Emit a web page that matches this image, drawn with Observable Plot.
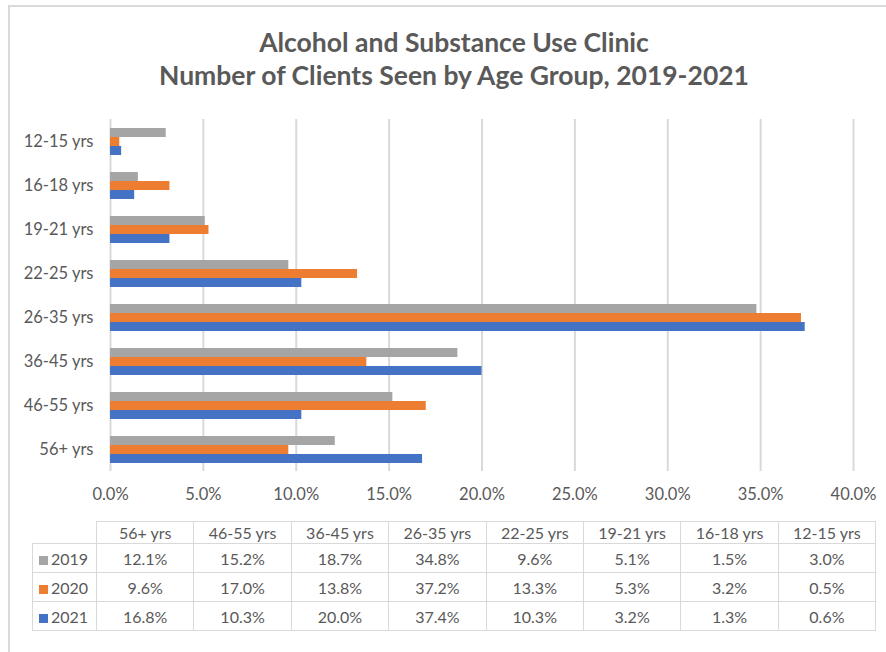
<!DOCTYPE html>
<html>
<head>
<meta charset="utf-8">
<script src="https://cdn.jsdelivr.net/npm/d3@7"></script>
<script src="https://cdn.jsdelivr.net/npm/@observablehq/plot@0.6"></script>
<style>
  html, body { margin: 0; padding: 0; background: #fff; }
  #wrap { position: relative; width: 886px; height: 652px; overflow: hidden; font-family: Lato, "Noto Sans", sans-serif; color: #595959; }
  #frame { position: absolute; left: 8px; top: 5px; width: 900px; height: 700px; border-top: 2px solid #d9d9d9; border-left: 2px solid #d9d9d9; }
  #title { position: absolute; left: 11px; top: 26px; width: 886px; text-align: center; font-weight: bold; font-size: 26.5px; line-height: 33px; color: #595959; }
  #chart { position: absolute; left: 0; top: 110px; }
  #tbl { position: absolute; left: 32px; top: 521px; border-collapse: collapse; table-layout: fixed; width: 843px; font-size: 16px; color: #595959; }
  #tbl td { border: 1.5px solid #d9d9d9; text-align: center; padding: 0; height: 28px; overflow: hidden; white-space: nowrap; }
  #tbl tr.head td { height: 21px; }
  #tbl td.key { text-align: left; padding-left: 6px; }
  #tbl td.blank { border-top: none; border-left: none; }
  .sw { display: inline-block; width: 9px; height: 9px; margin-right: 3px; vertical-align: 0px; }
</style>
</head>
<body>
<div id="wrap">
  <div id="frame"></div>
  <div id="title">Alcohol and Substance Use Clinic<br>Number of Clients Seen by Age Group, 2019-2021</div>
  <div id="chart"></div>
  <table id="tbl"></table>
</div>
<script>
// Data (table order, as shown in the data table)
const ageGroups = ["56+ yrs","46-55 yrs","36-45 yrs","26-35 yrs","22-25 yrs","19-21 yrs","16-18 yrs","12-15 yrs"];
const years = ["2019","2020","2021"];
const values2019 = [12.1, 15.2, 18.7, 34.8, 9.6, 5.1, 1.5, 3.0];
const values2020 = [9.6, 17.0, 13.8, 37.2, 13.3, 5.3, 3.2, 0.5];
const values2021 = [16.8, 10.3, 20.0, 37.4, 10.3, 3.2, 1.3, 0.6];
const xTicks = [0, 5, 10, 15, 20, 25, 30, 35, 40];
const yearColors = ["#a5a5a5", "#ed7d31", "#4472c4"];

const series = {"2019": values2019, "2020": values2020, "2021": values2021};
const data = years.flatMap(y => ageGroups.map((a, i) => ({age: a, year: y, value: series[y][i]})));
const chartAges = ageGroups.slice().reverse();

const fmt = d => d.toFixed(1) + "%";

const plot = Plot.plot({
  width: 886,
  height: 404,
  marginLeft: 110,
  marginRight: 33,
  marginTop: 8,
  marginBottom: 43,
  style: {fontSize: "16.5px", fontFamily: "Lato, 'Noto Sans', sans-serif", color: "#595959", background: "transparent"},
  facet: {data, y: "age", marginLeft: 110},
  fy: {domain: chartAges, padding: 0, label: null, tickSize: 0, tickPadding: 17},
  y: {domain: years, axis: null, paddingInner: 0, paddingOuter: 0.9},
  x: {domain: [0, 40], ticks: xTicks, tickFormat: fmt, label: null, tickSize: 0, tickPadding: 17},
  color: {domain: years, range: yearColors},
  marks: [
    Plot.ruleX(xTicks, {stroke: "#d9d9d9", strokeWidth: 2, strokeOpacity: 1}),
    Plot.barX(data, {x: "value", y: "year", fill: "year"})
  ]
});
document.getElementById("chart").appendChild(plot);

// Data table
const tbl = document.getElementById("tbl");
let html = '<colgroup><col style="width:64px">' + ageGroups.map(() => '<col style="width:97.4px">').join("") + '</colgroup>';
html += '<tr class="head"><td class="key blank"></td>' + ageGroups.map(a => `<td>${a}</td>`).join("") + '</tr>';
years.forEach((y, j) => {
  html += `<tr><td class="key"><span class="sw" style="background:${yearColors[j]}"></span>${y}</td>` +
    series[y].map(v => `<td>${fmt(v)}</td>`).join("") + '</tr>';
});
tbl.innerHTML = html;
</script>
</body>
</html>
